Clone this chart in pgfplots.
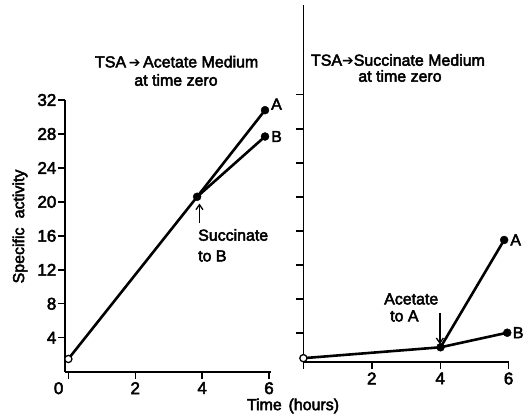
\documentclass[border=0pt]{standalone}
\usepackage{pgfplots}
\pgfplotsset{compat=1.18}
\usepackage{fontspec}
\setmainfont{Liberation Sans}[FakeBold=3]
\newfontfamily\dejavu{DejaVu Sans}
\usetikzlibrary{arrows.meta}
\newcommand{\harr}{{\dejavu\fontsize{14}{16}\selectfont ➔}}
\begin{document}
\begin{tikzpicture}
\useasboundingbox (0bp,0bp) rectangle (529bp,416bp);
\pgfplotsset{
  every axis/.append style={
    scale only axis, clip=false,
    axis x line*=bottom, axis y line*=left,
    axis line style={line width=1.6bp,-},
    tick style={line width=1.4bp,black},
    tick align=outside,
    major tick length=7bp,
    font=\fontsize{16}{19}\selectfont,
    /pgf/number format/assume math mode=true,
    tick label style={font=\fontsize{17}{19}\selectfont},
  },
  dataline/.style={black, line width=2.6bp, no marks},
  fullpt/.style={black, only marks, mark=*, mark size=4bp},
  openpt/.style={black, only marks, mark=*, mark size=3.6bp, mark options={fill=white, line width=1.3bp}},
}
% ---------------- left panel ----------------
\begin{axis}[
  at={(65bp,44.3bp)}, anchor=south west,
  width=205.7bp, height=271.7bp,
  xmin=-0.1, xmax=6.05, ymin=0, ymax=32,
  xtick={0,2,4,6}, xticklabels={\llap{0\hspace{5bp}},2,4,6},
  ytick={4,8,12,16,20,24,28,32},
  yticklabel style={inner sep=1.5bp},
]
\addplot[dataline] coordinates {(0.0,1.5) (3.85,20.6) (5.88,30.8)};
\addplot[dataline] coordinates {(3.85,20.6) (5.88,27.7)};
\addplot[fullpt] coordinates {(3.85,20.6) (5.88,30.8) (5.88,27.7)};
\addplot[openpt] coordinates {(0.0,1.5)};
\node[xshift=11.5bp, yshift=6bp] at (axis cs:5.88,30.8) {A};
\node[xshift=11.5bp] at (axis cs:5.88,27.7) {B};
\draw[-{Straight Barb[length=5bp,width=7bp]}, line width=1.3bp] (axis cs:3.92,17.5) -- (axis cs:3.92,19.8);
\end{axis}
% ---------------- right panel ----------------
\begin{axis}[
  at={(303.4bp,54bp)}, anchor=south west,
  width=205.2bp, height=357.4bp,
  xmin=0, xmax=6, ymin=0, ymax=42,
  xtick={0,2,4,6}, xticklabels={,2,4,6},
  ytick={3.4,7.4,11.4,15.4,19.4,23.4,27.4,31.4}, yticklabels={},
]
\addplot[dataline] coordinates {(0,0.45) (4.01,1.73) (5.87,14.34)};
\addplot[dataline] coordinates {(4.01,1.73) (5.96,3.44)};
\addplot[fullpt] coordinates {(4.01,1.73) (5.87,14.34) (5.96,3.44)};
\addplot[openpt] coordinates {(0,0.45)};
\node[xshift=11.5bp] at (axis cs:5.87,14.34) {A};
\node[xshift=11bp] at (axis cs:5.96,3.44) {B};
\draw[-{Straight Barb[length=5bp,width=7bp]}, line width=1.3bp] (axis cs:3.99,5.76) -- (axis cs:3.99,2.1);
\end{axis}
% ---------------- text ----------------
\begin{scope}[every node/.style={font=\fontsize{16}{19}\selectfont, inner sep=0pt}]
\node at (176.7bp,354.3bp) {TSA\,\harr\,Acetate Medium};
\node at (176bp,336bp) {at time zero};
\node at (398bp,356bp) {TSA\harr Succinate Medium};
\node at (400bp,340bp) {at time zero};
\node[anchor=west] at (198bp,181bp) {Succinate};
\node[anchor=west] at (198bp,160bp) {to B};
\node[anchor=west] at (384bp,117bp) {Acetate};
\node[anchor=west] at (390bp,100bp) {to A};
\node at (293bp,10bp) {Time\hspace{0.15em} (hours)};
\node[rotate=90] at (20bp,189.5bp) {Specific\hspace{0.3em} activity};
\end{scope}
\end{tikzpicture}
\end{document}
